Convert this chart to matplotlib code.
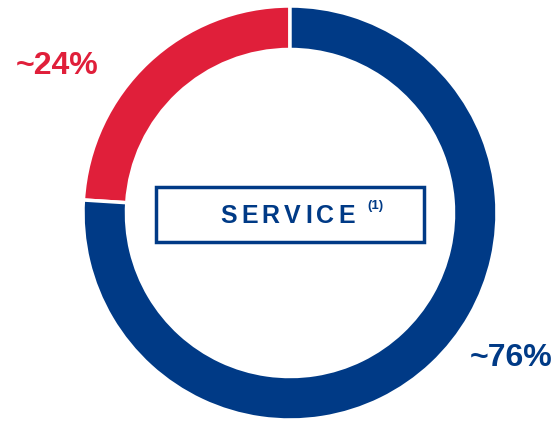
import matplotlib
matplotlib.use("Agg")
import matplotlib.pyplot as plt
from matplotlib.patches import Rectangle

labels = ["~24%", "~76%"]
values = [24, 76]
colors = ["#E01F3A", "#003A86"]
center_text = "SERVICE"
note = "(1)"

W, H = 557, 423
fig = plt.figure(figsize=(W / 100, H / 100), dpi=100)
plt.rcParams['font.family'] = ['Liberation Sans', 'DejaVu Sans']

cx, cy, R = 290, 213, 207
ax = fig.add_axes([(cx - R) / W, (H - cy - R) / H, 2 * R / W, 2 * R / H])
ax.set_aspect('equal')
ax.pie(values, colors=colors, startangle=90, counterclock=True, radius=1.0,
       wedgeprops=dict(width=0.21, edgecolor='white', linewidth=2.5))
ax.set_xlim(-1, 1)
ax.set_ylim(-1, 1)
ax.axis('off')

fig.text(57 / W, 1 - 66 / H, labels[0], color=colors[0], fontsize=23, fontweight='bold',
         ha='center', va='center')
fig.text(511 / W, 1 - 358 / H, labels[1], color=colors[1], fontsize=23, fontweight='bold',
         ha='center', va='center')

bx0, by0, bx1, by1 = 156, 187, 424, 242
fig.patches.append(Rectangle((bx0 / W, 1 - by1 / H), (bx1 - bx0) / W, (by1 - by0) / H,
                             transform=fig.transFigure, fill=False, edgecolor=colors[1],
                             linewidth=2.5))

# letter-spaced title
renderer = fig.canvas.get_renderer()
x_left, x_right = 220, 355
fs = 18
ts = []
widths = []
for ch in center_text:
    t = fig.text(0, 1 - 216 / H, ch, color=colors[1], fontsize=fs, fontweight='bold',
                 ha='left', va='center')
    ts.append(t)
    widths.append(t.get_window_extent(renderer).width)
gap = ((x_right - x_left) - sum(widths)) / (len(center_text) - 1)
x = x_left
for t, w in zip(ts, widths):
    t.set_x(x / W)
    x += w + gap

fig.text(375 / W, 1 - 206 / H, note, color=colors[1], fontsize=9.5, fontweight='bold',
         ha='center', va='center')

fig.savefig("out.png", dpi=100)
